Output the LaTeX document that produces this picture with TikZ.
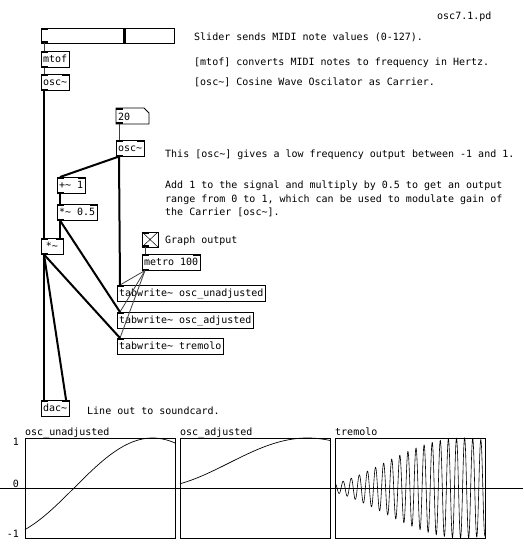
\documentclass[tikz,border=0pt]{standalone}
\usepackage{fontspec}
\newfontfamily\pdfont{DejaVu Sans Mono}
\newcommand\pdtxt{\pdfont\fontsize{10}{12}\selectfont}
\newcommand\inL[1]{\fill (#1.north west) rectangle ++(7,2);}
\newcommand\inR[1]{\fill (#1.north east) rectangle ++(-7,2);}
\newcommand\outL[1]{\fill (#1.south west) rectangle ++(7,-2);}
\begin{document}
\begin{tikzpicture}[x=1pt,y=-1pt,
  pdbox/.style={draw, line width=0.8pt, inner xsep=2pt, inner ysep=0pt, minimum height=16.5pt, anchor=north west, outer sep=0pt, font=\pdtxt, text height=7.5pt, text depth=2pt},
  plain/.style={inner sep=0pt, outer sep=0pt, anchor=north west},
  lbl/.style={inner sep=0pt, anchor=base west, font=\pdtxt},
  ctl/.style={line width=0.8pt, black!75},
  sig/.style={line width=2pt},
  graph/.style={draw, line width=0.8pt, plain, minimum width=150pt, minimum height=100pt}]
\useasboundingbox (0,0) rectangle (523,544);
\fill[white] (0,0) rectangle (523,544);

% comments
\node[lbl] (title) at (437,19) {osc7.1.pd};
\node[lbl] (c1) at (194,40) {Slider sends MIDI note values (0-127).};
\node[lbl] (c2) at (194,65) {[mtof] converts MIDI notes to frequency in Hertz.};
\node[lbl] (c3) at (194,85) {[osc\textasciitilde] Cosine Wave Oscilator as Carrier.};
\node[lbl] (c4) at (165,157) {This [osc\textasciitilde] gives a low frequency output between -1 and 1.};
\node[lbl] (c5) at (165,188) {Add 1 to the signal and multiply by 0.5 to get an output};
\node[lbl] (c6) at (165,202) {range from 0 to 1, which can be used to modulate gain of};
\node[lbl] (c7) at (165,215) {the Carrier [osc\textasciitilde].};
\node[lbl] (c8) at (165,243) {Graph output};
\node[lbl] (c9) at (87,414) {Line out to soundcard.};

% slider
\node[plain, draw, line width=0.8pt, minimum width=133pt, minimum height=15pt] (slider) at (41,28) {};
\draw[line width=3pt] ([xshift=83pt]slider.north west) -- ([xshift=83pt]slider.south west);
\inL{slider}\outL{slider}

% objects
\node[pdbox] (mtof) at (41,51) {mtof};
\node[pdbox] (osca) at (41,74) {osc\textasciitilde};
\node[plain, minimum width=33pt, minimum height=16pt] (n20) at (116,108) {};
\draw[line width=0.8pt] (n20.north west) -- ([xshift=-5pt]n20.north east) -- ([yshift=-5pt]n20.north east) -- (n20.south east) -- (n20.south west) -- cycle;
\node[lbl] at (118,120) {20};
\node[pdbox] (oscb) at (116,140) {osc\textasciitilde};
\node[pdbox] (plus) at (57,177) {+\textasciitilde{} 1};
\node[pdbox] (times) at (57,204) {*\textasciitilde{} 0.5};
\node[pdbox, minimum width=22pt] (mult) at (41,238) {*\textasciitilde};
\node[plain, draw, line width=0.8pt, minimum width=16pt, minimum height=15pt] (tog) at (142,232) {};
\draw[line width=0.5pt] (tog.north west) -- (tog.south east) (tog.north east) -- (tog.south west);
\node[pdbox] (metro) at (142,254) {metro 100};
\node[pdbox] (tw1) at (117,285) {tabwrite\textasciitilde{} osc\_unadjusted};
\node[pdbox] (tw2) at (117,312) {tabwrite\textasciitilde{} osc\_adjusted};
\node[pdbox] (tw3) at (117,338) {tabwrite\textasciitilde{} tremolo};
\node[pdbox] (dac) at (41,400) {dac\textasciitilde};

% inlets / outlets
\inL{mtof}\outL{mtof}
\inL{osca}\inR{osca}\outL{osca}
\inL{n20}\outL{n20}
\inL{oscb}\inR{oscb}\outL{oscb}
\inL{plus}\inR{plus}\outL{plus}
\inL{times}\inR{times}\outL{times}
\inL{mult}\inR{mult}\outL{mult}
\inL{tog}\outL{tog}
\inL{metro}\inR{metro}\outL{metro}
\inL{tw1}\inL{tw2}\inL{tw3}
\inL{dac}\inR{dac}

% control connections
\draw[ctl] ([xshift=3pt]slider.south west) -- ([xshift=3pt]mtof.north west);
\draw[ctl] ([xshift=3pt]mtof.south west) -- ([xshift=3pt]osca.north west);
\draw[ctl] ([xshift=3pt]n20.south west) -- ([xshift=3pt]oscb.north west);
\draw[ctl] ([xshift=3pt]tog.south west) -- ([xshift=3pt]metro.north west);
\draw[ctl] ([xshift=3pt]metro.south west) -- ([xshift=3pt]tw1.north west);
\draw[ctl] ([xshift=3pt]metro.south west) -- ([xshift=3pt]tw2.north west);
\draw[ctl] ([xshift=3pt]metro.south west) -- ([xshift=3pt]tw3.north west);

% signal connections
\draw[sig] ([xshift=3pt]osca.south west) -- ([xshift=3pt]mult.north west);
\draw[sig] ([xshift=3pt]oscb.south west) -- ([xshift=3pt]plus.north west);
\draw[sig] ([xshift=3pt]oscb.south west) -- ([xshift=3pt]tw1.north west);
\draw[sig] ([xshift=3pt]plus.south west) -- ([xshift=3pt]times.north west);
\draw[sig] ([xshift=3pt]times.south west) -- ([xshift=-3pt]mult.north east);
\draw[sig] ([xshift=3pt]times.south west) -- ([xshift=3pt]tw2.north west);
\draw[sig] ([xshift=3pt]mult.south west) -- ([xshift=3pt]dac.north west);
\draw[sig] ([xshift=3pt]mult.south west) -- ([xshift=-3pt]dac.north east);
\draw[sig] ([xshift=3pt]mult.south west) -- ([xshift=3pt]tw3.north west);

% graphs
\node[graph] (g1) at (25,438) {};
\node[graph] (g2) at (180,438) {};
\node[graph] (g3) at (335,438) {};
\node[lbl] at (25,435) {osc\_unadjusted};
\node[lbl] at (180,435) {osc\_adjusted};
\node[lbl] at (335,435) {tremolo};
\node[lbl, anchor=base east] at (19,445) {1};
\node[lbl, anchor=base east] at (19,487) {0};
\node[lbl, anchor=base east] at (19,537) {-1};
\draw[line width=0.8pt] (0,488) -- (523,488);

\draw[line width=0.7pt] plot[domain=25:175, samples=120, smooth] (\x,{488-50*sin(0.02*(\x-74) r)});
\draw[line width=0.7pt] plot[domain=180:330, samples=120, smooth] (\x,{488-25*(sin(0.02*(\x-229) r)+1)});
\draw[line width=0.6pt] plot[domain=335:485, samples=900] (\x,{488-25*(sin(0.02*(\x-384) r)+1)*cos(44.444*(\x-335))});
\end{tikzpicture}
\end{document}
